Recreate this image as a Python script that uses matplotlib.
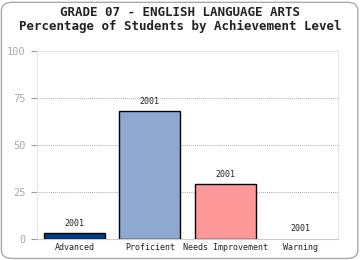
import matplotlib
matplotlib.use("Agg")
import matplotlib.pyplot as plt
from matplotlib.patches import FancyBboxPatch

categories = ["Advanced", "Proficient", "Needs Improvement", "Warning"]
values = [3, 68, 29, 0]
year_labels = ["2001", "2001", "2001", "2001"]
colors = ["#003f87", "#8fa8d0", "#ff9999", "#cccccc"]
yticks = [0, 25, 50, 75, 100]

plt.rcParams['font.family'] = ['DejaVu Sans Mono']

fig = plt.figure(figsize=(3.6, 2.6), dpi=100)
fig.patch.set_facecolor("white")

# rounded outer frame
frame = FancyBboxPatch((0.004, 0.006), 0.99, 0.985,
                       boxstyle="round,pad=0,rounding_size=0.03",
                       transform=fig.transFigure, facecolor="none",
                       edgecolor="#aaaaaa", linewidth=1.0)
fig.patches.append(frame)

fig.text(0.5, 0.925, "GRADE 07 - ENGLISH LANGUAGE ARTS\nPercentage of Students by Achievement Level",
         ha="center", va="center", fontsize=9, fontweight="bold",
         color="#222222", linespacing=1.0)

ax = fig.add_axes([37 / 360, 1 - 239 / 260, 301 / 360, 188 / 260])
x = range(len(categories))
bars = ax.bar(x, values, width=0.81, color=colors, edgecolor="black",
              linewidth=1.0, zorder=3)
for i, b in enumerate(bars):
    if values[i] == 0:
        b.set_visible(False)
    ax.annotate(year_labels[i], (b.get_x() + b.get_width() / 2, values[i]),
                xytext=(0, 4), textcoords="offset points", ha="center",
                va="bottom", fontsize=6, color="#222222")

ax.set_xlim(-0.5, 3.5)
ax.set_ylim(0, 100)
ax.set_yticks(yticks)
ax.set_yticklabels([str(t) for t in yticks], fontsize=7.5, color="#aaaaaa")
ax.set_xticks(list(x))
ax.set_xticklabels(categories, fontsize=6, color="#222222")
ax.tick_params(axis="x", length=0, pad=3)
ax.tick_params(axis="y", length=4, color="#999999", pad=4)
ax.yaxis.grid(True, linestyle=(0, (1, 1)), color="#aaaaaa", linewidth=0.7, zorder=0)
for s in ax.spines.values():
    s.set_color("#e6e6e6")
    s.set_linewidth(0.8)
ax.spines["bottom"].set_color("#cccccc")

fig.savefig("out.png", dpi=100)
